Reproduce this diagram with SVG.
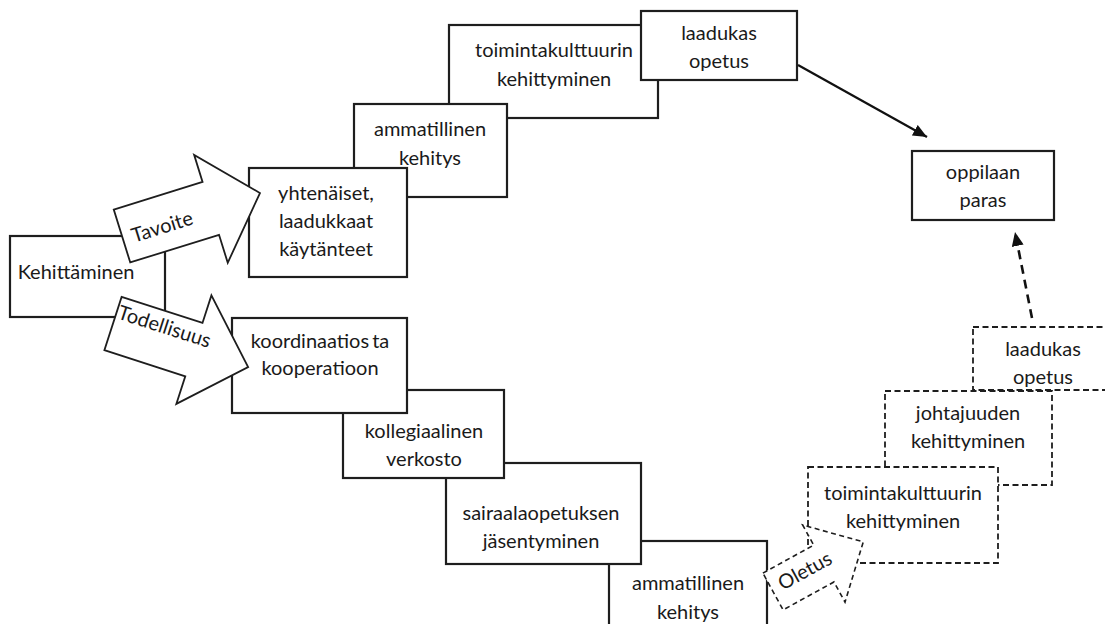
<svg xmlns="http://www.w3.org/2000/svg" width="1105" height="624" viewBox="0 0 1105 624">
  <style>
    .box { fill: #ffffff; stroke: #1e1e1e; stroke-width: 2.2; }
    .dbox { fill: #ffffff; stroke: #1e1e1e; stroke-width: 1.8; stroke-dasharray: 6 3.5; }
    .blk { fill: #ffffff; stroke: #1e1e1e; stroke-width: 1.8; stroke-linejoin: miter; }
    .dblk { fill: #ffffff; stroke: #1e1e1e; stroke-width: 1.6; stroke-dasharray: 5 3.5; }
    text { font-family: Lato, "Open Sans", "Liberation Sans", sans-serif; font-size: 20px; fill: #1a1a1a; text-anchor: middle; }
    .link { fill: none; stroke: #111111; stroke-width: 2.2; }
    .dlink { fill: none; stroke: #111111; stroke-width: 2.6; stroke-dasharray: 9 6; }
  </style>
  <defs>
    <marker id="head" viewBox="0 0 14 12" refX="14" refY="6" markerWidth="14" markerHeight="12" markerUnits="userSpaceOnUse" orient="auto">
      <path d="M0,0 L14,6 L0,12 Z" fill="#111111"/>
    </marker>
  </defs>

  <!-- starting point -->
  <g id="kehittaminen">
    <rect class="box" x="10" y="236" width="155" height="81"/>
    <text x="76" y="279">Kehittäminen</text>
  </g>

  <!-- goal path (upper steps) -->
  <g id="toimintakulttuuri-top">
    <rect class="box" x="449" y="25" width="209" height="93"/>
    <text x="554" y="57">toimintakulttuurin</text>
    <text x="554" y="86">kehittyminen</text>
  </g>
  <g id="ammatillinen-top">
    <rect class="box" x="354" y="104" width="153" height="93"/>
    <text x="430" y="136">ammatillinen</text>
    <text x="430" y="165">kehitys</text>
  </g>
  <g id="yhtenaiset">
    <rect class="box" x="249" y="168" width="158" height="109"/>
    <text x="326" y="200">yhtenäiset,</text>
    <text x="326" y="228">laadukkaat</text>
    <text x="326" y="256">käytänteet</text>
  </g>
  <g id="laadukas-top">
    <rect class="box" x="641" y="11" width="156" height="69"/>
    <text x="719" y="40">laadukas</text>
    <text x="719" y="68">opetus</text>
  </g>

  <!-- reality path (lower steps) -->
  <g id="ammatillinen-bottom">
    <rect class="box" x="609" y="541" width="158" height="100"/>
    <text x="688" y="590">ammatillinen</text>
    <text x="688" y="619">kehitys</text>
  </g>
  <g id="sairaalaopetus">
    <rect class="box" x="446" y="463" width="195" height="101"/>
    <text x="541" y="520">sairaalaopetuksen</text>
    <text x="541" y="548">jäsentyminen</text>
  </g>
  <g id="kollegiaalinen">
    <rect class="box" x="343" y="390" width="161" height="88"/>
    <text x="424" y="438">kollegiaalinen</text>
    <text x="424" y="466">verkosto</text>
  </g>
  <g id="koordinaatio">
    <rect class="box" x="232" y="318" width="175" height="95"/>
    <text x="320" y="348"><tspan>koordinaatios</tspan><tspan dx="3">ta</tspan></text>
    <text x="320" y="375">kooperatioon</text>
  </g>

  <!-- outcome -->
  <g id="oppilaan-paras">
    <rect class="box" x="912" y="151" width="142" height="69"/>
    <text x="983" y="179">oppilaan</text>
    <text x="983" y="207">paras</text>
  </g>

  <!-- assumed path (dashed steps) -->
  <g id="johtajuus">
    <rect class="dbox" x="885" y="391" width="167" height="94"/>
    <text x="968" y="420">johtajuuden</text>
    <text x="968" y="448">kehittyminen</text>
  </g>
  <g id="laadukas-dashed">
    <rect class="dbox" x="973" y="327" width="150" height="63"/>
    <text x="1043" y="356">laadukas</text>
    <text x="1043" y="384">opetus</text>
  </g>
  <g id="toimintakulttuuri-dashed">
    <rect class="dbox" x="808" y="467" width="190" height="96"/>
    <text x="903" y="500">toimintakulttuurin</text>
    <text x="903" y="528">kehittyminen</text>
  </g>

  <!-- connectors -->
  <g id="connectors">
    <line class="link" x1="798" y1="65" x2="927" y2="137" marker-end="url(#head)"/>
    <line class="dlink" x1="1032" y1="318" x2="1015" y2="232" marker-end="url(#head)"/>

    <g id="arrow-tavoite" transform="translate(122,236) rotate(-17.3)">
      <polygon class="blk" points="0,-27.7 93,-27.7 93,-56 144.5,0 93,57 93,27.7 0,27.7"/>
      <text x="41" y="10">Tavoite</text>
    </g>
    <g id="arrow-todellisuus" transform="translate(113,323.5) rotate(17.9)">
      <polygon class="blk" points="0,-28 85,-28 85,-57 142,0 85,57 85,28 0,28"/>
      <text x="50" y="-6">Todellisuus</text>
    </g>
    <g id="arrow-oletus" transform="translate(773,591.5) rotate(-28.8)">
      <polygon class="dblk" points="0,-21 58,-21 58,-44 103,0 58,44 58,21 0,21"/>
      <text x="38" y="4">Oletus</text>
    </g>
  </g>
</svg>
